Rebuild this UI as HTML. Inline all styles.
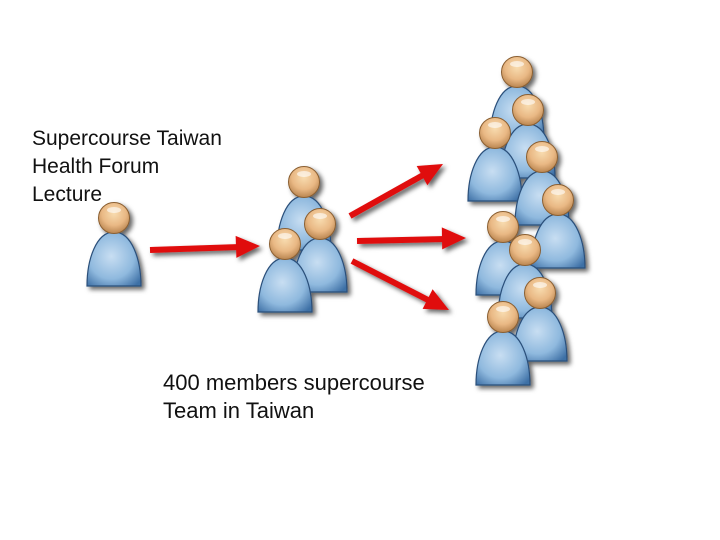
<!DOCTYPE html>
<html><head><style>
html,body{margin:0;padding:0;background:#fff;}
.t{position:absolute;font-family:"Liberation Sans",sans-serif;font-size:21px;line-height:28px;color:#111;}
</style></head><body>
<div style="position:relative;width:720px;height:540px;overflow:hidden">
<svg width="720" height="540" style="position:absolute;left:0;top:0">
<defs>
<radialGradient id="hd" cx="0.5" cy="0.35" r="0.65">
<stop offset="0" stop-color="#f8dcb0"/><stop offset="0.6" stop-color="#e9b884"/><stop offset="1" stop-color="#b98550"/>
</radialGradient>
<radialGradient id="bd" cx="0.45" cy="0.45" r="0.7">
<stop offset="0" stop-color="#c8def2"/><stop offset="0.6" stop-color="#8fb9de"/><stop offset="1" stop-color="#3d6fa5"/>
</radialGradient>
<filter id="sh" x="-30%" y="-30%" width="160%" height="160%"><feDropShadow dx="3" dy="3" stdDeviation="2.5" flood-color="#000" flood-opacity="0.6"/></filter>
<g id="p">
<path d="M-27,68 C-27,42 -18,14 0,14 C18,14 27,42 27,68 Z" fill="url(#bd)" stroke="#2b4f7a" stroke-width="1.2"/>
<circle cx="0" cy="0" r="15.5" fill="url(#hd)" stroke="#8a5e30" stroke-width="1"/>
<ellipse cx="0" cy="-8" rx="7" ry="3" fill="#fff" opacity="0.6"/>
</g>
<g id="ar"><path d="M0,0 L-24,-11 L-24,11 Z" fill="#e01010"/></g>
</defs>
<g filter="url(#sh)">
<use href="#p" x="114" y="218"/>
<use href="#p" x="304" y="182"/>
<use href="#p" x="320" y="224"/>
<use href="#p" x="285" y="244"/>
<use href="#p" x="517" y="72"/>
<use href="#p" x="528" y="110"/>
<use href="#p" x="495" y="133"/>
<use href="#p" x="542" y="157"/>
<use href="#p" x="558" y="200"/>
<use href="#p" x="503" y="227"/>
<use href="#p" x="525" y="250"/>
<use href="#p" x="540" y="293"/>
<use href="#p" x="503" y="317"/>
</g>
<g filter="url(#sh)">
<line x1="150" y1="250" x2="240" y2="247" stroke="#e01010" stroke-width="6"/>
<use href="#ar" transform="translate(260,246) rotate(-2)"/>
<line x1="350" y1="216" x2="425" y2="174" stroke="#e01010" stroke-width="6"/>
<use href="#ar" transform="translate(443,164) rotate(-29)"/>
<line x1="357" y1="241" x2="446" y2="239" stroke="#e01010" stroke-width="6"/>
<use href="#ar" transform="translate(466,238) rotate(-1)"/>
<line x1="352" y1="261" x2="430" y2="301" stroke="#e01010" stroke-width="6"/>
<use href="#ar" transform="translate(449,310) rotate(27)"/>
</g>
</svg>
<div class="t" style="left:32px;top:125px">Supercourse Taiwan<br>Health Forum<br>Lecture</div>
<div class="t" style="left:163px;top:369px;font-size:22px">400 members supercourse<br>Team in Taiwan</div>
</div>
</body></html>
